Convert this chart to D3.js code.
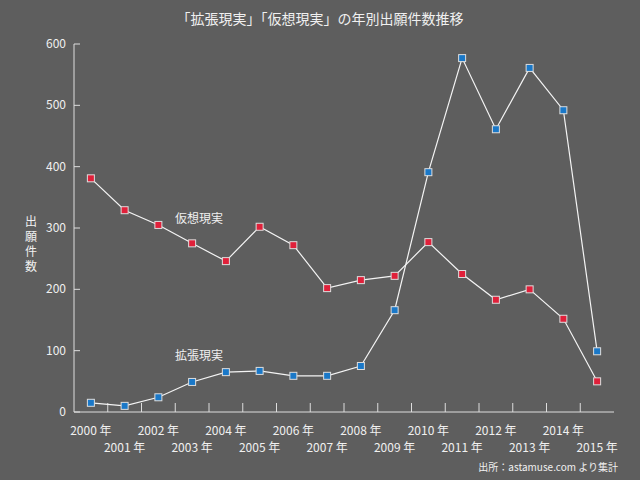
<!DOCTYPE html>
<html><head><meta charset="utf-8">
<script src="https://cdn.jsdelivr.net/npm/d3@7"></script>
<style>body{margin:0;background:#5e5e5e}svg{display:block}text{font-family:"Noto Sans CJK JP",sans-serif;fill:#f0f0f0}</style>
</head><body><svg width="640" height="480"></svg>
<script>
var years = d3.range(2000, 2016);
var virtualReality = [381, 329, 305, 275, 246, 302, 272, 202, 215, 222, 277, 225, 183, 200, 152, 50];
var augmentedReality = [15, 10, 24, 49, 65, 67, 59, 59, 75, 166, 391, 577, 461, 561, 492, 99];
var yTicks = [0, 100, 200, 300, 400, 500, 600];

var svg = d3.select("svg");
svg.append("rect").attr("width", 640).attr("height", 480).attr("fill", "#5e5e5e");

var x = d3.scaleBand().domain(years).range([74, 614]);
var y = d3.scaleLinear().domain([0, 600]).range([412, 44]);
var cx = function(d, i) { return x(years[i]) + x.bandwidth() / 2; };

svg.append("text").attr("x", 320).attr("y", 24).attr("text-anchor", "middle")
  .style("font-size", "14px").text("「拡張現実」「仮想現実」の年別出願件数推移");

// axes
svg.append("line").attr("x1", 74).attr("x2", 74).attr("y1", 44).attr("y2", 412).attr("stroke", "#ddd");
svg.append("line").attr("x1", 74).attr("x2", 614).attr("y1", 412).attr("y2", 412).attr("stroke", "#ddd");
svg.selectAll(".yt").data(yTicks).enter().append("g").each(function(d) {
  var g = d3.select(this);
  g.append("line").attr("x1", 74).attr("x2", 80).attr("y1", y(d)).attr("y2", y(d)).attr("stroke", "#ddd");
  g.append("text").attr("x", 66).attr("y", y(d) + 4).attr("text-anchor", "end").style("font-size", "12px").text(d);
});
svg.selectAll(".xt").data(years.slice(1)).enter().append("line")
  .attr("x1", function(d) { return x(d); }).attr("x2", function(d) { return x(d); })
  .attr("y1", 412).attr("y2", 403).attr("stroke", "#ddd");
svg.selectAll(".xl").data(years).enter().append("text")
  .attr("x", function(d) { return x(d) + x.bandwidth() / 2; })
  .attr("y", function(d, i) { return i % 2 ? 452 : 435; })
  .attr("text-anchor", "middle").style("font-size", "12px").text(function(d) { return d + " 年"; });

svg.selectAll(".yl").data(["出", "願", "件", "数"]).enter().append("text")
  .attr("x", 31).attr("y", function(d, i) { return 226 + i * 15; })
  .attr("text-anchor", "middle").style("font-size", "12px").text(function(d) { return d; });

var line = d3.line().x(cx).y(function(d) { return y(d); });
function series(data, color) {
  svg.append("path").attr("d", line(data)).attr("fill", "none").attr("stroke", "#f4f4f4").attr("stroke-width", 1.2);
  svg.selectAll(null).data(data).enter().append("rect")
    .attr("x", function(d, i) { return cx(d, i) - 3.5; }).attr("y", function(d) { return y(d) - 3.5; })
    .attr("width", 7).attr("height", 7).attr("fill", color).attr("stroke", "#ddd").attr("stroke-width", 1);
}
series(virtualReality, "#e0203a");
series(augmentedReality, "#1a78c8");

svg.append("text").attr("x", 175).attr("y", 223).style("font-size", "12px").text("仮想現実");
svg.append("text").attr("x", 175).attr("y", 360).style("font-size", "12px").text("拡張現実");
svg.append("text").attr("x", 618).attr("y", 471).attr("text-anchor", "end").style("font-size", "10px").text("出所：astamuse.com より集計");
</script></body></html>
